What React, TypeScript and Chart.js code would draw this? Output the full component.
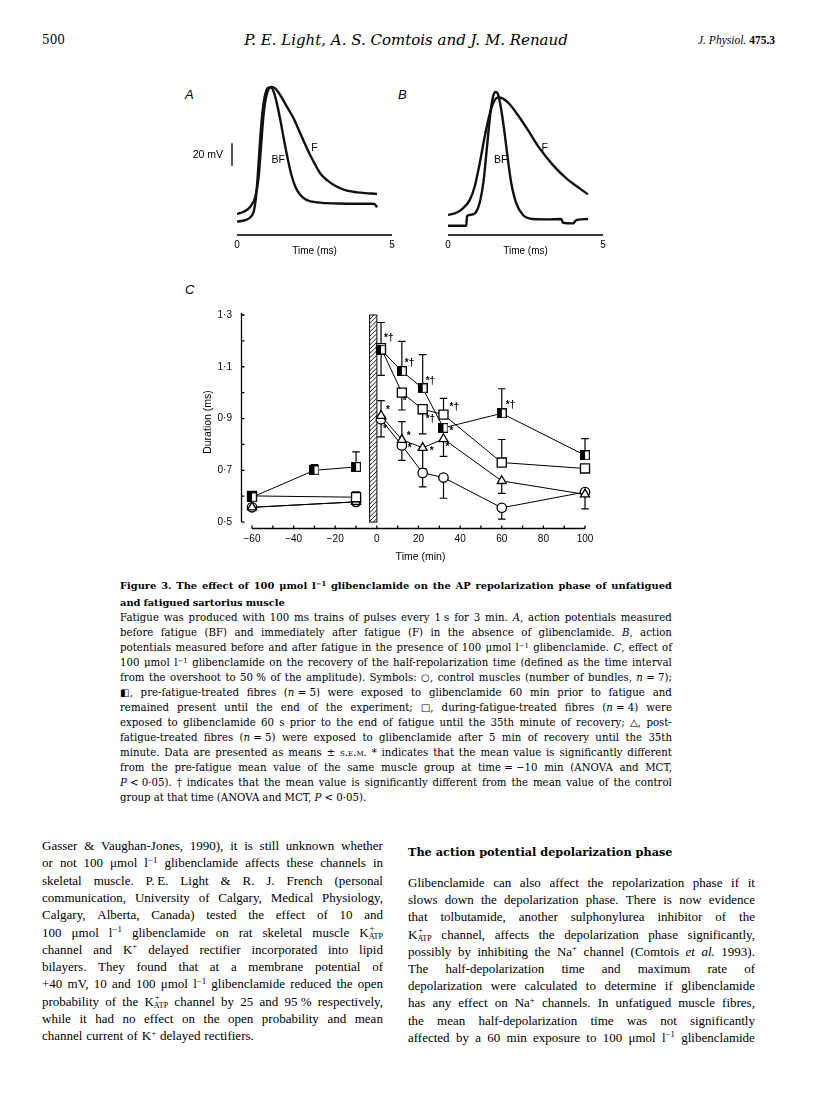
import React, { useEffect, useRef } from "react";
import { Chart, registerables } from "chart.js";

Chart.register(...registerables);

const SANS = '"Liberation Sans", Arial, Helvetica, sans-serif';
const CAP_FONT = '"DejaVu Serif", "Liberation Serif", serif';
const BODY_FONT = '"Liberation Serif", "Times New Roman", serif';

/* ---------- Panels A and B: action potentials (time in ms, mV above trace baseline) ---------- */
const AP_TIME_RANGE = [0, 5];
const AP_MV_RANGE = [0, 135];
const AP_AXIS_MV = 0;
const SCALE_BAR_MV = [60, 80];

const A_F_T = [0, 0.215, 0.43, 0.591, 0.699, 0.774, 0.86, 0.968, 1.097, 1.237, 1.398, 1.613, 1.828, 2.043, 2.258, 2.473, 2.688, 2.903, 3.226, 3.548, 3.871, 4.301, 4.516];
const A_F_V = [18.3, 20.3, 24.6, 33.3, 50.7, 76.8, 105.8, 123.2, 129.0, 127.5, 121.7, 111.6, 101.4, 88.4, 75.4, 63.8, 53.6, 47.8, 42.0, 38.6, 37.1, 36.2, 35.7];
const A_BF_T = [0, 0.269, 0.43, 0.538, 0.602, 0.667, 0.731, 0.806, 0.892, 1.0, 1.097, 1.204, 1.312, 1.419, 1.527, 1.634, 1.742, 1.882, 2.043, 2.258, 2.581, 3.226, 4.301, 4.43, 4.495, 4.516];
const A_BF_V = [11.6, 13.0, 15.4, 20.3, 30.4, 50.7, 76.8, 102.9, 120.3, 128.4, 128.4, 123.2, 111.6, 97.1, 81.2, 66.7, 53.6, 42.0, 34.8, 30.4, 28.4, 27.5, 27.2, 27.0, 25.2, 24.1];

const B_F_T = [0, 0.269, 0.484, 0.699, 0.86, 1.022, 1.183, 1.323, 1.452, 1.613, 1.774, 1.989, 2.258, 2.581, 2.957, 3.387, 3.817, 4.247, 4.516];
const B_F_V = [17.4, 19.4, 23.2, 30.4, 42.0, 62.3, 85.5, 102.9, 114.5, 119.7, 118.8, 113.9, 104.3, 91.3, 75.4, 60.9, 49.3, 40.6, 35.4];
const B_BF_T = [0, 0.591, 0.613, 0.753, 0.914, 1.043, 1.151, 1.258, 1.366, 1.452, 1.538, 1.624, 1.72, 1.828, 1.935, 2.043, 2.204, 2.419, 2.742, 3.172, 3.656, 3.71, 4.032, 4.14, 4.516];
const B_BF_V = [8.1, 8.1, 16.5, 17.7, 20.3, 30.4, 47.8, 76.8, 105.8, 120.3, 124.6, 121.7, 108.7, 88.4, 65.2, 44.9, 27.5, 17.4, 13.9, 13.6, 13.9, 10.7, 10.1, 13.0, 13.9];

const A_TRACE_LABELS = [{ text: "BF", t: 1.33, v: 65 }, { text: "F", t: 2.5, v: 75.5 }];
const B_TRACE_LABELS = [{ text: "BF", t: 1.7, v: 65 }, { text: "F", t: 3.12, v: 75.5 }];

/* ---------- Panel C: half-repolarization time ---------- */
const C_Y_TICKS = [0.5, 0.6, 0.7, 0.8, 0.9, 1.0, 1.1, 1.2, 1.3];
const C_Y_LABELS = ["0·5", "", "0·7", "", "0·9", "", "1·1", "", "1·3"];
const C_X_TICKS = [-60, -40, -20, 0, 20, 40, 60, 80, 100];
const C_X_LABELS = ["−60", "−40", "−20", "0", "20", "40", "60", "80", "100"];
const C_X_MINOR = [-60, -50, -40, -30, -20, -10, 0, 10, 20, 30, 40, 50, 60, 70, 80, 90, 100];
const C_X_RANGE = [-65.29, 107.2];
const C_Y_RANGE = [0.4732, 1.3];
const FATIGUE_MIN = [-3.5, 0];
const HATCH_RANGE = [0.5, 1.3];

const CTRL_T = [-60, -10, 2, 12, 22, 32, 60, 100];
const CTRL_V = [0.557, 0.578, 0.897, 0.796, 0.69, 0.672, 0.555, 0.616];
const CTRL_SEM = [0, 0, 0.068, 0.058, 0.054, 0.08, 0.044, 0];
const CTRL_BAR = [0, 0, -1, -1, -1, -1, -1, 0];
const CTRL_SIG = ["", "", "*", "*", "", "", "", ""];

const PRE_T = [-60, -30, -10, 2, 12, 22, 32, 60, 100];
const PRE_V = [0.596, 0.7, 0.713, 1.166, 1.083, 1.017, 0.864, 0.92, 0.758];
const PRE_SEM = [0, 0.022, 0.058, 0.105, 0.115, 0.13, 0, 0.095, 0.064];
const PRE_BAR = [0, 1, 1, 1, 1, 1, 0, 1, 1];
const PRE_SIG = ["", "", "", "*†", "*†", "*†", "*", "*†", ""];

const DUR_T = [-60, -10, 2, 12, 22, 32, 60, 100];
const DUR_V = [0.601, 0.596, 1.172, 1.0, 0.936, 0.915, 0.73, 0.707];
const DUR_SEM = [0, 0.021, 0.105, 0.067, 0.095, 0.063, 0.089, 0];
const DUR_BAR = [0, 1, -1, -1, -1, 1, 1, 0];
const DUR_SIG = ["", "", "", "*", "*†", "*†", "", ""];

const POST_T = [-60, -10, 2, 12, 22, 32, 60, 100];
const POST_V = [0.557, 0.578, 0.911, 0.818, 0.787, 0.821, 0.659, 0.607];
const POST_SEM = [0, 0, 0.058, 0.07, 0.08, 0.067, 0.048, 0.056];
const POST_BAR = [0, 0, 1, 1, -1, -1, -1, -1];
const POST_SIG = ["", "", "*", "*", "*", "*", "", ""];

/* styling: pixel offsets of significance marks from their point */
const SIG_OFFSETS: Record<string, ([number, number] | null)[]> = {
  pre: [null, null, null, [3, -11], [3, -8], [3, -7], [6, 3], [4, -8], null],
  dur: [null, null, null, [1, 9], [3, 10], [6, -7], null, null],
  post: [null, null, [5, -5], [5, -4], [7, 3], [2, 8], null, null],
  ctrl: [null, null, [2, 10], [6, 3], null, null, null, null],
};

/* ---------- Text ---------- */
const CAPTION_TITLE = [
  "Figure 3. The effect of 100 μmol l^{−1} glibenclamide on the AP repolarization phase of unfatigued",
  "and fatigued sartorius muscle",
];
const CAPTION_BODY = [
  "Fatigue was produced with 100 ms trains of pulses every 1\u00a0s for 3 min. ~{A}, action potentials measured",
  "before fatigue (BF) and immediately after fatigue (F) in the absence of glibenclamide. ~{B}, action",
  "potentials measured before and after fatigue in the presence of 100 μmol l^{−1} glibenclamide. ~{C}, effect of",
  "100 μmol l^{−1} glibenclamide on the recovery of the half-repolarization time (defined as the time interval",
  "from the overshoot to 50\u00a0% of the amplitude). Symbols: ○, control muscles (number of bundles, ~{n}\u00a0=\u00a07);",
  "◧, pre-fatigue-treated fibres (~{n}\u00a0=\u00a05) were exposed to glibenclamide 60 min prior to fatigue and",
  "remained present until the end of the experiment; □, during-fatigue-treated fibres (~{n}\u00a0=\u00a04) were",
  "exposed to glibenclamide 60 s prior to the end of fatigue until the 35th minute of recovery; △, post-",
  "fatigue-treated fibres (~{n}\u00a0=\u00a05) were exposed to glibenclamide after 5 min of recovery until the 35th",
  "minute. Data are presented as means ± %{s.e.m.} * indicates that the mean value is significantly different",
  "from the pre-fatigue mean value of the same muscle group at time\u00a0=\u00a0−10 min (ANOVA and MCT,",
  "~{P}\u00a0<\u00a00·05). † indicates that the mean value is significantly different from the mean value of the control",
  "group at that time (ANOVA and MCT, ~{P}\u00a0<\u00a00·05).",
];
const LEFT_COLUMN = [
  "Gasser & Vaughan-Jones, 1990), it is still unknown whether",
  "or not 100 μmol l^{−1} glibenclamide affects these channels in",
  "skeletal muscle. P.\u2009E. Light & R. J. French (personal",
  "communication, University of Calgary, Medical Physiology,",
  "Calgary, Alberta, Canada) tested the effect of 10 and",
  "100 μmol l^{−1} glibenclamide on rat skeletal muscle K[+|ATP]",
  "channel and K^{+} delayed rectifier incorporated into lipid",
  "bilayers. They found that at a membrane potential of",
  "+40 mV, 10 and 100 μmol l^{−1} glibenclamide reduced the open",
  "probability of the K[+|ATP] channel by 25 and 95\u00a0% respectively,",
  "while it had no effect on the open probability and mean",
  "channel current of K^{+} delayed rectifiers.",
];
const RIGHT_HEADING = "The action potential depolarization phase";
const RIGHT_COLUMN = [
  "Glibenclamide can also affect the repolarization phase if it",
  "slows down the depolarization phase. There is now evidence",
  "that tolbutamide, another sulphonylurea inhibitor of the",
  "K[+|ATP] channel, affects the depolarization phase significantly,",
  "possibly by inhibiting the Na^{+} channel (Comtois ~{et} ~{al.} 1993).",
  "The half-depolarization time and maximum rate of",
  "depolarization were calculated to determine if glibenclamide",
  "has any effect on Na^{+} channels. In unfatigued muscle fibres,",
  "the mean half-depolarization time was not significantly",
  "affected by a 60 min exposure to 100 μmol l^{−1} glibenclamide",
];

/* ---------- rich text helpers ---------- */
function renderRich(w: string) {
  const parts = w.split(/(\^\{[^}]*\}|~\{[^}]*\}|%\{[^}]*\}|\[[^\]]*\])/).filter((p) => p !== "");
  return parts.map((p, i) => {
    if (p.startsWith("^{"))
      return (
        <span key={i} style={{ fontSize: "0.68em", position: "relative", top: "-0.5em" }}>
          {p.slice(2, -1)}
        </span>
      );
    if (p.startsWith("~{")) return <i key={i}>{p.slice(2, -1)}</i>;
    if (p.startsWith("%{"))
      return (
        <span key={i} style={{ fontVariant: "small-caps" }}>
          {p.slice(2, -1)}
        </span>
      );
    if (p.startsWith("[")) {
      const [sup, sub] = p.slice(1, -1).split("|");
      return (
        <span key={i} style={{ position: "relative", display: "inline-block", fontSize: "0.62em", top: "0.32em" }}>
          {sub}
          <span style={{ position: "absolute", left: "0.15em", top: "-1.0em" }}>{sup}</span>
        </span>
      );
    }
    return <React.Fragment key={i}>{p}</React.Fragment>;
  });
}

function Line(props: { text: string; x: number; y: number; w: number; font: string; size: number; weight?: number; last?: boolean; lh?: number }) {
  const { text, x, y, w, font, size, weight = 400, last = false, lh = 14 } = props;
  const words = text.split(" ");
  return (
    <div
      style={{
        position: "absolute",
        left: x,
        top: y - lh / 2,
        width: w,
        height: lh,
        lineHeight: lh + "px",
        fontFamily: font,
        fontSize: size,
        fontWeight: weight,
        display: "flex",
        justifyContent: last ? "flex-start" : "space-between",
        columnGap: last ? "0.3em" : 0,
        whiteSpace: "nowrap",
      }}
    >
      {words.map((wd, i) => (
        <span key={i}>{renderRich(wd)}</span>
      ))}
    </div>
  );
}

/* ---------- chart builders ---------- */
function drawApAxis(chart: any, ctx: CanvasRenderingContext2D) {
  const x = chart.scales.x;
  const y = chart.scales.y;
  const x0 = x.getPixelForValue(AP_TIME_RANGE[0]);
  const x1 = x.getPixelForValue(AP_TIME_RANGE[1]);
  const ay = y.getPixelForValue(AP_AXIS_MV);
  ctx.save();
  ctx.fillStyle = "#3a3a3a";
  ctx.fillRect(x0, ay - 1, x1 - x0, 2);
  ctx.restore();
}

function apDecor(labels: { text: string; t: number; v: number }[], withBar: boolean) {
  return {
    id: "apDecor",
    afterDraw(chart: any) {
      const { ctx, chartArea } = chart;
      const x = chart.scales.x;
      const y = chart.scales.y;
      drawApAxis(chart, ctx);
      const x0 = x.getPixelForValue(AP_TIME_RANGE[0]);
      const x1 = x.getPixelForValue(AP_TIME_RANGE[1]);
      const ay = y.getPixelForValue(AP_AXIS_MV);
      ctx.save();
      ctx.fillStyle = "#000";
      ctx.textBaseline = "middle";
      ctx.textAlign = "center";
      ctx.font = `10px ${SANS}`;
      ctx.fillText("Time (ms)", (x0 + x1) / 2, ay + 16);
      ctx.font = `10.5px ${SANS}`;
      labels.forEach((l) => ctx.fillText(l.text, x.getPixelForValue(l.t), y.getPixelForValue(l.v)));
      if (withBar) {
        const bx = chartArea.left - 5;
        ctx.strokeStyle = "#000";
        ctx.lineWidth = 1.3;
        ctx.beginPath();
        ctx.moveTo(bx, y.getPixelForValue(SCALE_BAR_MV[0]));
        ctx.lineTo(bx, y.getPixelForValue(SCALE_BAR_MV[1]));
        ctx.stroke();
        ctx.textAlign = "right";
        ctx.fillText(`${SCALE_BAR_MV[1] - SCALE_BAR_MV[0]} mV`, bx - 9, y.getPixelForValue((SCALE_BAR_MV[0] + SCALE_BAR_MV[1]) / 2));
      }
      ctx.restore();
    },
  };
}

function buildAP(fT: number[], fV: number[], bfT: number[], bfV: number[], labels: any[], withBar: boolean) {
  const trace = (T: number[], V: number[]) => ({
    data: T.map((t, i) => ({ x: t, y: V[i] })),
    borderColor: "#111",
    borderWidth: 2.4,
    pointRadius: 0,
    cubicInterpolationMode: "monotone",
  });
  return {
    type: "line",
    data: { datasets: [trace(fT, fV), trace(bfT, bfV)] },
    options: {
      responsive: false,
      animation: false,
      devicePixelRatio: 1,
      events: [],
      layout: { padding: { left: 57, right: 18, top: 10, bottom: 0 } },
      plugins: { legend: { display: false }, tooltip: { enabled: false } },
      scales: {
        x: {
          type: "linear",
          min: AP_TIME_RANGE[0],
          max: AP_TIME_RANGE[1],
          afterFit: (s: any) => {
            s.height = 35;
          },
          grid: { display: false, drawTicks: false },
          border: { display: false },
          ticks: { padding: 4, stepSize: 5, color: "#000", font: { family: SANS, size: 10 } },
        },
        y: { type: "linear", display: false, min: AP_MV_RANGE[0], max: AP_MV_RANGE[1] },
      },
    },
    plugins: [apDecor(labels, withBar)],
  };
}

function buildC() {
  const half = document.createElement("canvas");
  half.width = 10;
  half.height = 10;
  const g = half.getContext("2d")!;
  g.fillStyle = "#fff";
  g.fillRect(0.5, 0.5, 9, 9);
  g.fillStyle = "#000";
  g.fillRect(0.5, 0.5, 4.5, 9);
  g.strokeStyle = "#000";
  g.lineWidth = 1.2;
  g.strokeRect(0.6, 0.6, 8.8, 8.8);

  const series = [
    { key: "pre", T: PRE_T, V: PRE_V, SEM: PRE_SEM, BAR: PRE_BAR, SIG: PRE_SIG, style: { pointStyle: half, pointRadius: 5 } },
    { key: "dur", T: DUR_T, V: DUR_V, SEM: DUR_SEM, BAR: DUR_BAR, SIG: DUR_SIG, style: { pointStyle: "rect", pointRadius: 6.4 } },
    { key: "post", T: POST_T, V: POST_V, SEM: POST_SEM, BAR: POST_BAR, SIG: POST_SIG, style: { pointStyle: "triangle", pointRadius: 5.2 } },
    { key: "ctrl", T: CTRL_T, V: CTRL_V, SEM: CTRL_SEM, BAR: CTRL_BAR, SIG: CTRL_SIG, style: { pointStyle: "circle", pointRadius: 4.7 } },
  ];

  const decor = {
    id: "cDecor",
    beforeDatasetsDraw(chart: any) {
      const { ctx, chartArea } = chart;
      const x = chart.scales.x;
      const y = chart.scales.y;
      ctx.save();
      const x0 = x.getPixelForValue(FATIGUE_MIN[0]);
      const x1 = x.getPixelForValue(FATIGUE_MIN[1]);
      const yT = y.getPixelForValue(HATCH_RANGE[1]);
      const yB = y.getPixelForValue(HATCH_RANGE[0]);
      const w = x1 - x0;
      ctx.fillStyle = "#fff";
      ctx.fillRect(x0, yT, w, yB - yT);
      ctx.save();
      ctx.beginPath();
      ctx.rect(x0, yT, w, yB - yT);
      ctx.clip();
      ctx.beginPath();
      ctx.lineWidth = 0.9;
      ctx.strokeStyle = "#000";
      for (let k = yT - w; k <= yB + w; k += 4.3) {
        ctx.moveTo(x0, k + w);
        ctx.lineTo(x1, k);
      }
      ctx.stroke();
      ctx.restore();
      ctx.lineWidth = 1;
      ctx.strokeStyle = "#000";
      ctx.strokeRect(x0, yT, w, yB - yT);

      // axes
      const ax = Math.round(chartArea.left) + 0.5;
      const ay = Math.round(chartArea.bottom) - 0.5;
      ctx.lineWidth = 1.3;
      ctx.beginPath();
      ctx.moveTo(ax, y.getPixelForValue(C_Y_TICKS[C_Y_TICKS.length - 1]) - 2);
      ctx.lineTo(ax, y.getPixelForValue(C_Y_TICKS[0]));
      ctx.moveTo(x.getPixelForValue(C_X_MINOR[0]), ay);
      ctx.lineTo(x.getPixelForValue(C_X_MINOR[C_X_MINOR.length - 1]), ay);
      C_Y_TICKS.forEach((v) => {
        const py = y.getPixelForValue(v);
        ctx.moveTo(ax, py);
        ctx.lineTo(ax + 3, py);
      });
      C_X_MINOR.forEach((v) => {
        const px = x.getPixelForValue(v);
        ctx.moveTo(px, ay);
        ctx.lineTo(px, ay - 3);
      });
      ctx.stroke();

      // error bars (one-sided, s.e.m.)
      ctx.lineWidth = 1.2;
      ctx.beginPath();
      series.forEach((s) => {
        s.T.forEach((t, i) => {
          if (!s.SEM[i] || !s.BAR[i]) return;
          const px = x.getPixelForValue(t);
          const p0 = y.getPixelForValue(s.V[i]);
          const p1 = y.getPixelForValue(s.V[i] + s.BAR[i] * s.SEM[i]);
          ctx.moveTo(px, p0);
          ctx.lineTo(px, p1);
          ctx.moveTo(px - 3.8, p1);
          ctx.lineTo(px + 3.8, p1);
        });
      });
      ctx.stroke();
      ctx.restore();
    },
    afterDatasetsDraw(chart: any) {
      const { ctx } = chart;
      const x = chart.scales.x;
      const y = chart.scales.y;
      ctx.save();
      ctx.fillStyle = "#000";
      ctx.font = `bold 10px ${SANS}`;
      ctx.textAlign = "left";
      ctx.textBaseline = "middle";
      series.forEach((s) => {
        s.SIG.forEach((txt, i) => {
          const off = SIG_OFFSETS[s.key][i];
          if (!txt || !off) return;
          ctx.fillText(txt, x.getPixelForValue(s.T[i]) + off[0], y.getPixelForValue(s.V[i]) + off[1]);
        });
      });
      ctx.restore();
    },
  };

  return {
    type: "line",
    data: {
      datasets: series.map((s) => ({
        data: s.T.map((t, i) => ({ x: t, y: s.V[i] })),
        borderColor: "#000",
        borderWidth: 1,
        pointBackgroundColor: "#fff",
        pointBorderColor: "#000",
        pointBorderWidth: 1.3,
        tension: 0,
        fill: false,
        clip: false,
        segment: {
          borderColor: (c: any) => (c.p0.parsed.x < FATIGUE_MIN[1] && c.p1.parsed.x > FATIGUE_MIN[1] ? "rgba(0,0,0,0)" : "#000"),
        },
        ...s.style,
      })),
    },
    options: {
      responsive: false,
      animation: false,
      devicePixelRatio: 1,
      events: [],
      layout: { padding: { left: 0, right: 20, top: 13, bottom: 0 } },
      plugins: { legend: { display: false }, tooltip: { enabled: false } },
      scales: {
        x: {
          type: "linear",
          min: C_X_RANGE[0],
          max: C_X_RANGE[1],
          afterBuildTicks: (s: any) => {
            s.ticks = C_X_TICKS.map((v) => ({ value: v }));
          },
          afterFit: (s: any) => {
            s.height = 41;
          },
          grid: { display: false, drawTicks: false },
          border: { display: false },
          ticks: {
            padding: 4,
            color: "#000",
            autoSkip: false,
            maxRotation: 0,
            font: { family: SANS, size: 10 },
            callback: (_v: any, i: number) => C_X_LABELS[i],
          },
          title: { display: true, text: "Time (min)", color: "#000", font: { family: SANS, size: 10.5 }, padding: { top: 0, bottom: 7 } },
        },
        y: {
          type: "linear",
          min: C_Y_RANGE[0],
          max: C_Y_RANGE[1],
          afterBuildTicks: (s: any) => {
            s.ticks = C_Y_TICKS.map((v) => ({ value: v }));
          },
          afterFit: (s: any) => {
            s.width = 81;
          },
          grid: { display: false, drawTicks: false },
          border: { display: false },
          ticks: {
            padding: 9,
            color: "#000",
            autoSkip: false,
            font: { family: SANS, size: 10 },
            callback: (_v: any, i: number) => C_Y_LABELS[i],
          },
          title: { display: true, text: "Duration (ms)", color: "#000", font: { family: SANS, size: 10.5 }, padding: { top: 42, bottom: 0 } },
        },
      },
    },
    plugins: [decor],
  };
}

function ChartBox(props: {
  left: number;
  top: number;
  width: number;
  height: number;
  build: () => any;
  overlay?: (chart: any, ctx: CanvasRenderingContext2D) => void;
}) {
  const ref = useRef<HTMLCanvasElement>(null);
  const ovRef = useRef<HTMLCanvasElement>(null);
  useEffect(() => {
    const chart = new Chart(ref.current as HTMLCanvasElement, props.build());
    const ov = ovRef.current;
    if (props.overlay && ov) {
      const octx = ov.getContext("2d") as CanvasRenderingContext2D;
      octx.clearRect(0, 0, ov.width, ov.height);
      props.overlay(chart, octx);
    }
    return () => chart.destroy();
  }, []);
  const style: React.CSSProperties = { position: "absolute", left: props.left, top: props.top, width: props.width, height: props.height };
  return (
    <>
      <canvas ref={ref} width={props.width} height={props.height} style={{ ...style, zIndex: 2 }} />
      {props.overlay ? <canvas ref={ovRef} width={props.width} height={props.height} style={{ ...style, zIndex: 3, pointerEvents: "none" }} /> : null}
    </>
  );
}

function PanelLabel(props: { x: number; y: number; children: React.ReactNode }) {
  return (
    <div style={{ position: "absolute", left: props.x, top: props.y - 9, lineHeight: "18px", fontFamily: SANS, fontStyle: "italic", fontSize: 13 }}>
      {props.children}
    </div>
  );
}

export default function App() {
  const capX = 120;
  const capW = 552;
  return (
    <div style={{ position: "absolute", left: 0, top: 0, width: 816, height: 1105, background: "#fff", color: "#000", overflow: "hidden" }}>
      {/* running header */}
      <div style={{ position: "absolute", left: 42, top: 31, lineHeight: "18px", fontFamily: CAP_FONT, fontSize: 12 }}>500</div>
      <div style={{ position: "absolute", left: 156, width: 500, top: 30, lineHeight: "20px", textAlign: "center", fontFamily: CAP_FONT, fontStyle: "italic", fontSize: 15 }}>
        P. E. Light, A. S. Comtois and J. M. Renaud
      </div>
      <div style={{ position: "absolute", right: 41, top: 32, lineHeight: "16px", fontFamily: BODY_FONT, fontSize: 11.5 }}>
        <i>J. Physiol.</i> <b>475.3</b>
      </div>

      {/* panels */}
      <PanelLabel x={185} y={95}>A</PanelLabel>
      <PanelLabel x={398} y={95}>B</PanelLabel>
      <PanelLabel x={185} y={290}>C</PanelLabel>
      <ChartBox left={180} top={70} width={230} height={200} build={() => buildAP(A_F_T, A_F_V, A_BF_T, A_BF_V, A_TRACE_LABELS, true)} overlay={drawApAxis} />
      <ChartBox left={391} top={70} width={230} height={200} build={() => buildAP(B_F_T, B_F_V, B_BF_T, B_BF_V, B_TRACE_LABELS, false)} overlay={drawApAxis} />
      <ChartBox left={160} top={300} width={460} height={270} build={buildC} />

      {/* caption */}
      {CAPTION_TITLE.map((t, i) => (
        <Line key={"ct" + i} text={t} x={capX} y={585.7 + i * 16.6} w={capW} font={CAP_FONT} size={9.9} weight={700} last={i === CAPTION_TITLE.length - 1} lh={13} />
      ))}
      {CAPTION_BODY.map((t, i) => (
        <Line key={"cb" + i} text={t} x={capX} y={617.7 + i * 15} w={capW} font={CAP_FONT} size={10.2} last={i === CAPTION_BODY.length - 1} lh={13} />
      ))}

      {/* body text */}
      {LEFT_COLUMN.map((t, i) => (
        <Line key={"l" + i} text={t} x={42} y={846 + i * 17.3} w={341} font={BODY_FONT} size={13} last={i === LEFT_COLUMN.length - 1} lh={16} />
      ))}
      <div style={{ position: "absolute", left: 408, top: 852 - 9, lineHeight: "18px", fontFamily: CAP_FONT, fontWeight: 700, fontSize: 11.3, whiteSpace: "nowrap" }}>
        {RIGHT_HEADING}
      </div>
      {RIGHT_COLUMN.map((t, i) => (
        <Line key={"r" + i} text={t} x={408} y={883 + i * 17.2} w={347} font={BODY_FONT} size={13} lh={16} />
      ))}
    </div>
  );
}
